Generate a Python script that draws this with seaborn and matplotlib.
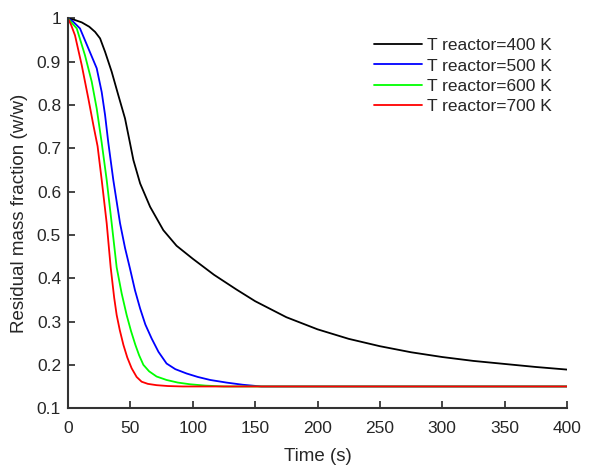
import numpy as np
import pandas as pd
import matplotlib
matplotlib.use("Agg")
import matplotlib.pyplot as plt
import seaborn as sns

# Residual mass fraction vs time
labels = ["T reactor=400 K", "T reactor=500 K", "T reactor=600 K", "T reactor=700 K"]
colors = ["black", "blue", "#00ff00", "red"]

t_400 = [0, 5, 11, 17, 21.7, 25.7, 29.7, 35, 40.3, 45.7, 49.7, 52.4, 57.8, 65.8, 76.4,
         87, 100, 117, 135, 150, 175, 200, 225, 250, 275, 300, 325, 350, 375, 400]
y_400 = [1, 0.997, 0.991, 0.981, 0.969, 0.954, 0.923, 0.877, 0.823, 0.769, 0.712, 0.673,
         0.619, 0.565, 0.511, 0.475, 0.445, 0.408, 0.374, 0.347, 0.31, 0.282, 0.26, 0.243,
         0.229, 0.218, 0.209, 0.202, 0.195, 0.189]

t_500 = [0, 4, 9.6, 16.3, 23, 27, 29.7, 32.3, 36.3, 41.7, 45.7, 49.7, 53.7, 57.8, 62, 67,
         72.5, 79, 86, 95, 104, 114, 127, 140, 155, 400]
y_500 = [1, 0.993, 0.977, 0.931, 0.885, 0.83, 0.777, 0.713, 0.627, 0.527, 0.47, 0.422,
         0.372, 0.33, 0.293, 0.261, 0.23, 0.203, 0.19, 0.18, 0.172, 0.165, 0.159, 0.154,
         0.15, 0.15]

t_600 = [0, 3, 7, 13.6, 19, 23, 27, 31, 35, 39, 43, 47, 50.5, 54, 57, 60.4, 65, 71, 79, 88,
         98, 110, 125, 400]
y_600 = [1, 0.99, 0.977, 0.915, 0.854, 0.792, 0.713, 0.627, 0.527, 0.425, 0.365, 0.315,
         0.278, 0.246, 0.222, 0.2, 0.185, 0.173, 0.165, 0.159, 0.155, 0.152, 0.15, 0.15]

t_700 = [0, 2.5, 5.6, 11, 16.3, 20.3, 23.7, 27, 31, 34.2, 37, 39, 41.5, 44.4, 47.5, 51, 55,
         59, 64, 71, 80, 92, 400]
y_700 = [1, 0.985, 0.961, 0.892, 0.815, 0.754, 0.705, 0.627, 0.527, 0.425, 0.355, 0.315,
         0.28, 0.246, 0.217, 0.192, 0.172, 0.161, 0.156, 0.153, 0.151, 0.15, 0.15]

frames = []
for lab, t, y in zip(labels, [t_400, t_500, t_600, t_700], [y_400, y_500, y_600, y_700]):
    frames.append(pd.DataFrame({"Time": t, "Fraction": y, "Series": lab}))
df = pd.concat(frames, ignore_index=True)

sns.set_theme(style="ticks")
plt.rcParams["font.family"] = ["Liberation Sans", "DejaVu Sans"]

fig = plt.figure(figsize=(5.93, 4.74), dpi=100)
ax = fig.add_axes([0.1147, 0.139, 0.8415, 0.822])

sns.lineplot(data=df, x="Time", y="Fraction", hue="Series", hue_order=labels,
             palette=dict(zip(labels, colors)), linewidth=1.3, sort=False,
             estimator=None, ax=ax)

ax.set_xlim(0, 400)
ax.set_ylim(0.1, 1)
ax.set_xticks(np.arange(0, 401, 50))
ax.set_yticks(np.arange(0.1, 1.01, 0.1))
ax.set_yticklabels(["0.1", "0.2", "0.3", "0.4", "0.5", "0.6", "0.7", "0.8", "0.9", "1"])
ax.tick_params(direction="in", length=5, width=1.2, labelsize=12.5, colors="#262626")
ax.tick_params(axis="x", pad=9)
ax.tick_params(axis="y", pad=5)
for side in ["left", "bottom"]:
    ax.spines[side].set_linewidth(1.5)
    ax.spines[side].set_color("#333333")
sns.despine(ax=ax)

ax.set_xlabel("Time (s)", fontsize=13.5, color="#262626", labelpad=9)
ax.set_ylabel("Residual mass fraction (w/w)", fontsize=13.5, color="#262626", labelpad=6)

ax.legend(loc="upper right", bbox_to_anchor=(1.0, 0.99), frameon=False, fontsize=12.5,
          handlelength=2.8, handletextpad=0.25, labelspacing=0.3)

fig.savefig("out.png", dpi=100)
